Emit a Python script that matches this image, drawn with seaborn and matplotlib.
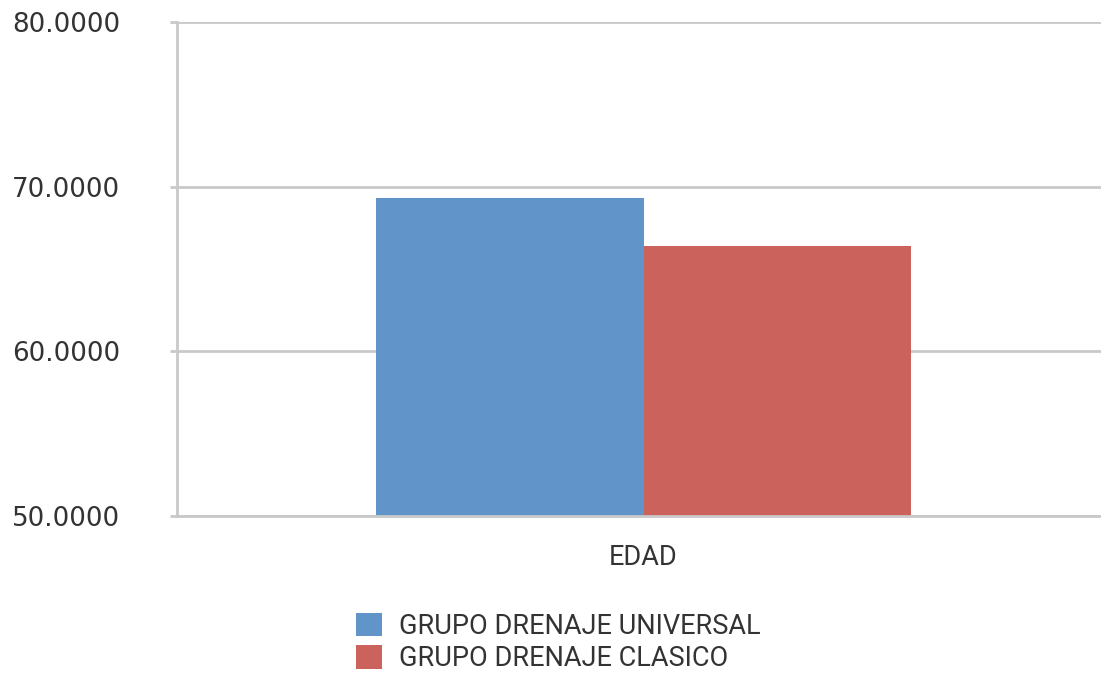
import matplotlib
matplotlib.use("Agg")
import matplotlib.pyplot as plt
import seaborn as sns
import pandas as pd

# Mean age per drainage group
categories = ["EDAD"]
groups = ["GRUPO DRENAJE UNIVERSAL", "GRUPO DRENAJE CLASICO"]
values = [69.33, 66.37]
y_ticks = [50, 60, 70, 80]
colors = ["#6195C9", "#CB635C"]

df = pd.DataFrame({
    "categoria": categories * len(groups),
    "grupo": groups,
    "valor": values,
})

sns.set_theme(style="white")
plt.rcParams["font.family"] = ["DejaVu Sans"]

W, H = 1101, 675
fig = plt.figure(figsize=(W / 100, H / 100), dpi=100)
ax = fig.add_axes([177 / W, 1 - 516 / H, (1110 - 177) / W, (516 - 22) / H])

sns.barplot(data=df, x="categoria", y="valor", hue="grupo",
            palette=colors, width=0.573, linewidth=0, saturation=1,
            ax=ax, legend=True)

ax.set_ylim(50, 80)
ax.set_xlim(-0.5, 0.5)
ax.set_yticks(y_ticks)
ax.set_yticklabels([f"{v:.4f}" for v in y_ticks], fontsize=18.8, color="#333333")
ax.set_xlabel("")
ax.set_ylabel("")

grid_col = "#C9C9C9"
ax.yaxis.grid(True, color=grid_col, linewidth=2)
ax.set_axisbelow(True)
for side in ["top", "right"]:
    ax.spines[side].set_visible(False)
for side in ["left", "bottom"]:
    ax.spines[side].set_color(grid_col)
    ax.spines[side].set_linewidth(2)

ax.tick_params(axis="y", length=5, width=2, color=grid_col, pad=35.7, left=True)
ax.tick_params(axis="x", length=0, pad=20)
for lbl in ax.get_xticklabels():
    lbl.set_fontfamily(["Roboto", "DejaVu Sans"])
    lbl.set_fontsize(19.5)
    lbl.set_color("#333333")

handles, labels = ax.get_legend_handles_labels()
ax.get_legend().remove()
fig.legend(handles, labels, loc="upper left",
           bbox_to_anchor=(356 / W, 1 - 613 / H),
           frameon=False, borderpad=0, borderaxespad=0,
           handlelength=0.95, handleheight=0.95, handletextpad=0.65,
           labelspacing=0.2,
           prop={"family": ["Roboto", "DejaVu Sans"], "size": 19.5},
           labelcolor="#333333")

fig.savefig("out.png", dpi=100)
